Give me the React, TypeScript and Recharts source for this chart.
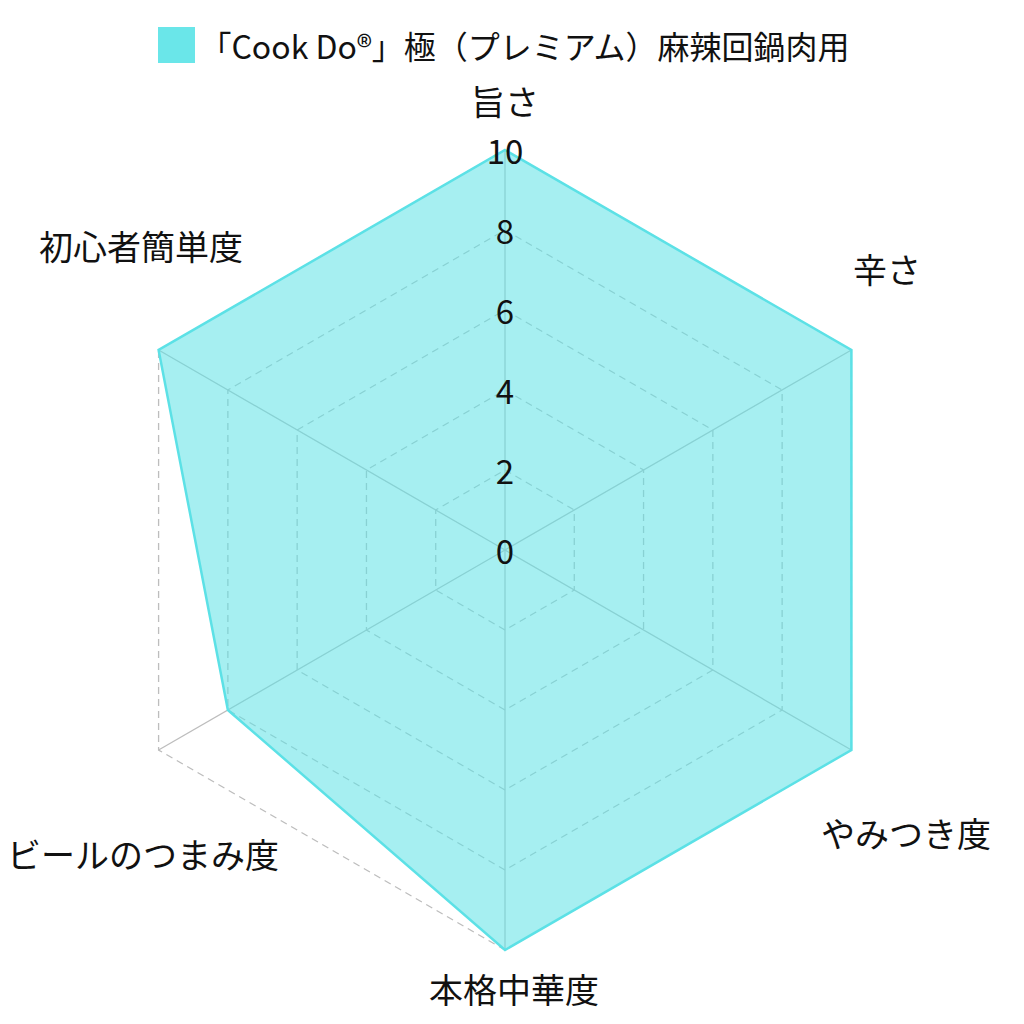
import React from "react"
import { RadarChart, Radar, PolarGrid, PolarAngleAxis, PolarRadiusAxis, Legend } from "recharts"

// chart data
const categories = ["旨さ", "辛さ", "やみつき度", "本格中華度", "ビールのつまみ度", "初心者簡単度"]
const scores = [10, 10, 10, 10, 8, 10]
const seriesName = "「Cook Do®」極（プレミアム）麻辣回鍋肉用"
const radiusTicks = [0, 2, 4, 6, 8, 10]

const FONT = "'Noto Sans CJK JP', 'Noto Sans', sans-serif"
const CX = 497
const CY = 542
const COLOR = "#5CE1E6"

// label centers relative to the chart centre (chart.js style placement)
const labelOffsets: [number, number][] = [
  [0, -450],
  [382, -282],
  [401, 282],
  [9, 438],
  [-362, 303],
  [-364, -305],
]

const data = categories.map((subject, i) => ({ subject, value: scores[i] }))

function AngleTick(props: any) {
  const [dx, dy] = labelOffsets[props.index] || [0, 0]
  return (
    <text
      x={CX + dx}
      y={CY + dy}
      textAnchor="middle"
      dominantBaseline="central"
      fontSize={34}
      fontFamily={FONT}
      fill="#111"
    >
      {props.payload.value}
    </text>
  )
}

function RadiusTick(props: any) {
  return (
    <text
      x={props.x}
      y={props.y}
      textAnchor="middle"
      dominantBaseline="central"
      fontSize={33}
      fontFamily={FONT}
      fill="#111"
    >
      {props.payload.value}
    </text>
  )
}

function LegendContent() {
  return (
    <div
      style={{
        display: "flex",
        justifyContent: "center",
        alignItems: "center",
        fontFamily: FONT,
        fontSize: 32,
        color: "#111",
      }}
    >
      <span style={{ width: 37, height: 36, background: "#6AE6E9", marginRight: 4, display: "inline-block" }} />
      <span style={{ lineHeight: "36px" }}>{seriesName}</span>
    </div>
  )
}

export default function App() {
  return (
    <RadarChart width={1008} height={1008} data={data} cx={CX} cy={CY} outerRadius={400}>
      <PolarGrid gridType="polygon" radialLines={false} stroke="#bdbdbd" strokeWidth={1.3} strokeDasharray="7 5" />
      <PolarGrid gridType="polygon" polarRadius={[]} stroke="#bdbdbd" strokeWidth={1.3} />
      <PolarAngleAxis dataKey="subject" tick={<AngleTick />} axisLine={false} tickLine={false} />
      <PolarRadiusAxis
        angle={90}
        domain={[0, 10]}
        ticks={radiusTicks as any}
        tickCount={6}
        axisLine={false}
        tickLine={false}
        tick={<RadiusTick />}
      />
      <Radar
        name={seriesName}
        dataKey="value"
        stroke={COLOR}
        strokeWidth={2.5}
        fill={COLOR}
        fillOpacity={0.55}
        dot={false}
        isAnimationActive={false}
      />
      <Legend
        verticalAlign="top"
        content={<LegendContent />}
        wrapperStyle={{ top: 19, left: -8, width: 1008 }}
      />
    </RadarChart>
  )
}
